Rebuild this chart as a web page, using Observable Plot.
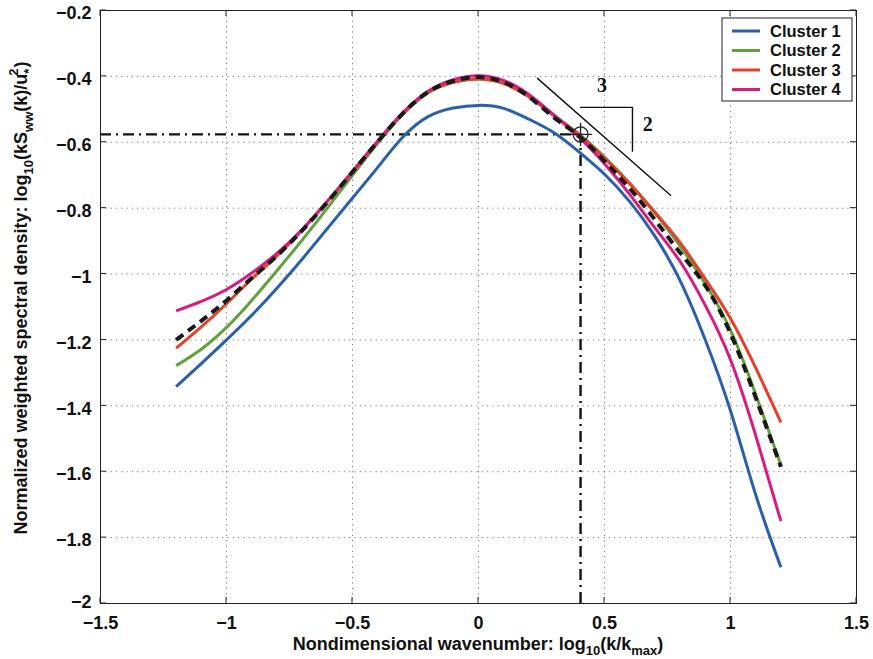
<!DOCTYPE html>
<html>
<head>
<meta charset="utf-8">
<script src="https://cdn.jsdelivr.net/npm/d3@7"></script>
<script src="https://cdn.jsdelivr.net/npm/@observablehq/plot@0.6"></script>
<style>
  html, body { margin: 0; padding: 0; background: #fff; }
  #chart { width: 873px; height: 659px; }
  svg { display: block; }
</style>
</head>
<body>
<div id="chart"></div>
<script>
// ---------- data ----------
const wavenumber = [-1.2,-1.1,-1.0,-0.9,-0.8,-0.7,-0.6,-0.5,-0.4,-0.3,-0.2,-0.1,0,0.1,0.2,0.3,0.4,0.5,0.6,0.7,0.8,0.9,1.0,1.1,1.2];

const cluster1 = [-1.342,-1.272,-1.200,-1.125,-1.043,-0.955,-0.862,-0.769,-0.676,-0.584,-0.522,-0.496,-0.488,-0.497,-0.530,-0.571,-0.630,-0.697,-0.780,-0.885,-1.020,-1.200,-1.415,-1.670,-1.890];
const cluster2 = [-1.278,-1.228,-1.162,-1.080,-0.990,-0.897,-0.800,-0.700,-0.603,-0.515,-0.450,-0.418,-0.408,-0.420,-0.460,-0.518,-0.576,-0.645,-0.725,-0.815,-0.915,-1.030,-1.170,-1.365,-1.580];
const cluster3 = [-1.225,-1.160,-1.090,-1.015,-0.945,-0.866,-0.780,-0.688,-0.597,-0.512,-0.447,-0.418,-0.408,-0.422,-0.462,-0.520,-0.578,-0.648,-0.725,-0.812,-0.905,-1.015,-1.135,-1.285,-1.450];
const cluster4 = [-1.112,-1.083,-1.047,-0.997,-0.937,-0.865,-0.780,-0.690,-0.597,-0.510,-0.445,-0.410,-0.398,-0.412,-0.455,-0.518,-0.585,-0.665,-0.758,-0.860,-0.962,-1.095,-1.260,-1.490,-1.750];
const meanCurve = [-1.200,-1.142,-1.080,-1.012,-0.945,-0.868,-0.782,-0.690,-0.598,-0.512,-0.447,-0.414,-0.402,-0.418,-0.462,-0.525,-0.582,-0.657,-0.740,-0.835,-0.935,-1.035,-1.180,-1.375,-1.585];

const seriesNames = ["Cluster 1","Cluster 2","Cluster 3","Cluster 4"];
const seriesColors = ["#2a5fa9","#62a23c","#e5402b","#d81b7f"];

const xTicks = [-1.5,-1,-0.5,0,0.5,1,1.5];
const yTicks = [-2,-1.8,-1.6,-1.4,-1.2,-1,-0.8,-0.6,-0.4,-0.2];

// reference point (dash-dot guides & circle)
const refX = [0.405];
const refY = [-0.576];

// slope indicator (-2/3) and bracket
const slopeX = [0.234, 0.762];
const slopeY = [-0.406, -0.761];
const bracketX = [0.405, 0.611, 0.611];
const bracketY = [-0.494, -0.494, -0.627];
const slopeLabels = ["3", "2"];
const slopeLabelX = [0.49, 0.672];
const slopeLabelY = [-0.427, -0.545];

// ---------- tables ----------
const clusterSets = [cluster1, cluster2, cluster3, cluster4];
const clusterRows = clusterSets.flatMap((vals, i) =>
  wavenumber.map((x, j) => ({x, y: vals[j], series: seriesNames[i]})));
const meanRows = wavenumber.map((x, j) => ({x, y: meanCurve[j]}));
const refPoint = refX.map((x, i) => ({x, y: refY[i]}));
const slopeRows = slopeX.map((x, i) => ({x, y: slopeY[i]}));
const bracketRows = bracketX.map((x, i) => ({x, y: bracketY[i]}));
const labelRows = slopeLabels.map((t, i) => ({t, x: slopeLabelX[i], y: slopeLabelY[i]}));

const font = "'Liberation Sans', Arial, Helvetica, sans-serif";
const fmt = d => String(d).replace("-", "\u2212");
const axisStyle = {fontSize: 18, fontWeight: "bold", fontFamily: font, fill: "#111"};
const yTicksUpper = yTicks.filter(v => v !== -2);
const yTicksBottom = yTicks.filter(v => v === -2);

const plot = Plot.plot({
  width: 873,
  height: 659,
  marginLeft: 100,
  marginRight: 17,
  marginTop: 10,
  marginBottom: 56,
  style: {fontFamily: font, background: "#fff", overflow: "visible"},
  x: {domain: [-1.5, 1.5]},
  y: {domain: [-2, -0.2]},
  color: {domain: seriesNames, range: seriesColors},
  marks: [
    Plot.gridX(xTicks, {stroke: "#555", strokeOpacity: 0.75, strokeDasharray: "1.3,4"}),
    Plot.gridY(yTicks, {stroke: "#555", strokeOpacity: 0.75, strokeDasharray: "1.3,4"}),
    Plot.axisX(xTicks, {anchor: "bottom", tickSize: 0, tickPadding: 12.5, tickFormat: fmt, label: null, ...axisStyle}),
    Plot.axisY(yTicksUpper, {anchor: "left", tickSize: 0, tickPadding: 9, dy: 3, tickFormat: fmt, label: null, ...axisStyle}),
    Plot.axisY(yTicksBottom, {anchor: "left", tickSize: 0, tickPadding: 9, dy: -1, tickFormat: fmt, label: null, ...axisStyle}),
    Plot.frame({stroke: "#222", strokeWidth: 1}),
    // dash-dot guides
    Plot.ruleY(refPoint, {y: "y", x1: -1.5, x2: "x", stroke: "#111", strokeWidth: 2.4, strokeDasharray: "11,5,2,5"}),
    Plot.ruleX(refPoint, {x: "x", y1: -2, y2: "y", stroke: "#111", strokeWidth: 2.4, strokeDasharray: "11,5,2,5"}),
    // cluster curves
    Plot.line(clusterRows, {x: "x", y: "y", z: "series", stroke: "series", strokeWidth: 3, strokeLinecap: "butt", curve: "natural"}),
    Plot.line(meanRows, {x: "x", y: "y", stroke: "#1a1a1a", strokeWidth: 4, strokeLinecap: "butt", strokeDasharray: "9,6", curve: "natural"}),
    // slope indicator
    Plot.line(slopeRows, {x: "x", y: "y", stroke: "#111", strokeWidth: 1.4}),
    Plot.line(bracketRows, {x: "x", y: "y", stroke: "#111", strokeWidth: 1.4}),
    Plot.text(labelRows, {x: "x", y: "y", text: "t", fontSize: 20, fontWeight: "bold", fontFamily: "'Liberation Serif', 'Times New Roman', serif", fill: "#111"}),
    // reference circle
    Plot.dot(refPoint, {x: "x", y: "y", r: 7.5, stroke: "#222", strokeWidth: 1.3, fill: "none"}),
    Plot.dot(refPoint, {x: "x", y: "y", r: 7.5, symbol: "plus", stroke: "#222", strokeWidth: 1.3})
  ]
});

document.getElementById("chart").appendChild(plot);

const svg = d3.select(plot);
const sx = plot.scale("x"), sy = plot.scale("y");
const [fx0, fx1] = [sx.apply(-1.5), sx.apply(1.5)];
const [fy0, fy1] = [sy.apply(-0.2), sy.apply(-2)];

// ---------- inward ticks on all four sides ----------
const tk = svg.append("g").attr("stroke", "#222").attr("stroke-width", 1);
xTicks.forEach(v => {
  const px = sx.apply(v);
  tk.append("line").attr("x1", px).attr("x2", px).attr("y1", fy1).attr("y2", fy1 - 6);
  tk.append("line").attr("x1", px).attr("x2", px).attr("y1", fy0).attr("y2", fy0 + 6);
});
yTicks.forEach(v => {
  const py = sy.apply(v);
  tk.append("line").attr("x1", fx0).attr("x2", fx0 + 6).attr("y1", py).attr("y2", py);
  tk.append("line").attr("x1", fx1).attr("x2", fx1 - 6).attr("y1", py).attr("y2", py);
});

// ---------- axis titles with sub/superscripts ----------
const titleFont = 18, subFont = 13;

const xt = svg.append("text")
  .attr("x", (fx0 + fx1) / 2).attr("y", 649.5)
  .attr("text-anchor", "middle")
  .attr("font-family", font).attr("font-weight", "bold").attr("font-size", titleFont).attr("fill", "#111");
xt.append("tspan").text("Nondimensional wavenumber: log");
xt.append("tspan").attr("dy", 5).attr("font-size", subFont).text("10");
xt.append("tspan").attr("dy", -5).text("(k/k");
xt.append("tspan").attr("dy", 5).attr("font-size", subFont).text("max");
xt.append("tspan").attr("dy", -5).text(")");

const yt = svg.append("text")
  .attr("transform", "translate(27,298) rotate(-90)")
  .attr("text-anchor", "middle")
  .attr("font-family", font).attr("font-weight", "bold").attr("font-size", titleFont).attr("fill", "#111");
yt.append("tspan").text("Normalized weighted spectral density: log");
yt.append("tspan").attr("dy", 6).attr("font-size", subFont).text("10");
yt.append("tspan").attr("dy", -6).text("(kS");
yt.append("tspan").attr("dy", 6).attr("font-size", subFont).text("ww");
yt.append("tspan").attr("dy", -6).text("(k)/u");
yt.append("tspan").attr("dy", 6).attr("font-size", subFont).text("*");
yt.append("tspan").attr("dx", -7).attr("dy", -15).attr("font-size", subFont).text("2");
yt.append("tspan").attr("dx", 1).attr("dy", 9).text(")");

// ---------- legend ----------
const lg = svg.append("g").attr("transform", "translate(722,18)");
lg.append("rect").attr("width", 130).attr("height", 83)
  .attr("fill", "#fff").attr("stroke", "#222").attr("stroke-width", 1);
seriesNames.forEach((name, i) => {
  const yy = 13 + i * 19.5;
  lg.append("line").attr("x1", 10).attr("x2", 38).attr("y1", yy).attr("y2", yy)
    .attr("stroke", seriesColors[i]).attr("stroke-width", 3);
  lg.append("text").attr("x", 48).attr("y", yy).attr("dy", "0.36em")
    .attr("text-anchor", "start")
    .attr("font-family", font).attr("font-weight", "bold").attr("font-size", 16.5).attr("fill", "#111")
    .text(name);
});
</script>
</body>
</html>
